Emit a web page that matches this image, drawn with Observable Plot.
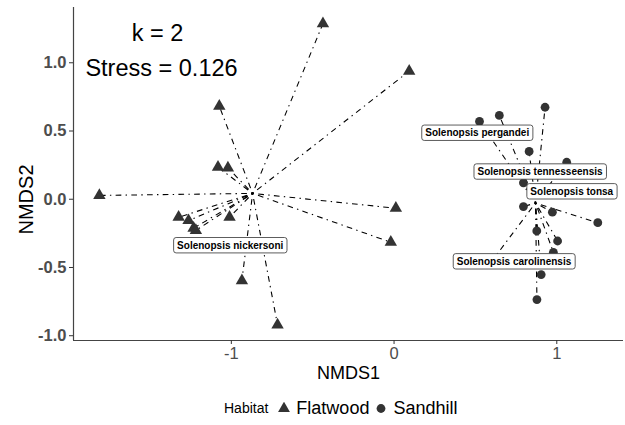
<!DOCTYPE html>
<html>
<head>
<meta charset="utf-8">
<script src="https://cdn.jsdelivr.net/npm/d3@7"></script>
<script src="https://cdn.jsdelivr.net/npm/@observablehq/plot@0.6"></script>
<style>
  body { margin: 0; background: #fff; font-family: "Liberation Sans", Arial, sans-serif; }
  #chart { position: relative; width: 625px; height: 425px; overflow: hidden; }
  g[aria-label="y-axis tick label"], g[aria-label="x-axis tick label"] { fill: #4d4d4d; }
  g[aria-label="y-axis tick"], g[aria-label="x-axis tick"] { stroke: #333; }
</style>
</head>
<body>
<div id="chart"></div>
<script>
// ---- data ----
const habitats = ["Flatwood", "Sandhill"];
const flatwoodX = [-0.437, 0.093, -1.074, -1.082, -1.021, -1.811, -1.324, -1.263, -1.232, -1.218, -1.011, 0.011, -0.020, -0.935, -0.716];
const flatwoodY = [1.286, 0.939, 0.682, 0.235, 0.230, 0.028, -0.132, -0.156, -0.212, -0.228, -0.132, -0.066, -0.315, -0.596, -0.921];
const sandhillX = [0.928, 0.647, 0.525, 0.830, 1.061, 0.795, 0.795, 0.973, 1.252, 0.877, 1.005, 0.979, 0.904, 0.878, 0.590];
const sandhillY = [0.674, 0.614, 0.570, 0.350, 0.271, 0.120, -0.054, -0.095, -0.172, -0.232, -0.306, -0.389, -0.552, -0.735, -0.471];
const speciesNames = ["Solenopsis nickersoni", "Solenopsis pergandei", "Solenopsis tennesseensis", "Solenopsis tonsa", "Solenopsis carolinensis"];
const speciesX = [-1.007, 0.511, 0.897, 1.092, 0.737];
const speciesY = [-0.339, 0.485, 0.201, 0.056, -0.457];
const xTicks = [-1, 0, 1];
const yTicks = [-1, -0.5, 0, 0.5, 1];
const xLimits = [-1.97, 1.41];
const yLimits = [-1.035, 1.405];
const annotations = ["k = 2", "Stress = 0.126"];

// ---- derived tables ----
const flat = flatwoodX.map((x, i) => ({habitat: habitats[0], x, y: flatwoodY[i]}));
const sand = sandhillX.map((x, i) => ({habitat: habitats[1], x, y: sandhillY[i]}));
const pts = flat.concat(sand);
const cent = d3.rollup(pts, v => ({x: d3.mean(v, d => d.x), y: d3.mean(v, d => d.y)}), d => d.habitat);
const spokes = pts.map(d => ({x1: cent.get(d.habitat).x, y1: cent.get(d.habitat).y, x2: d.x, y2: d.y}));
const species = speciesNames.map((name, i) => ({name, x: speciesX[i], y: speciesY[i]}));

const W = 625, H = 390;
const font = '"Liberation Sans", Arial, sans-serif';

const chart = Plot.plot({
  width: W, height: H,
  marginLeft: 73, marginRight: 2, marginTop: 7, marginBottom: H - 340,
  style: {fontFamily: font, background: "white", overflow: "visible", color: "#000"},
  x: {domain: xLimits, ticks: xTicks, label: null},
  y: {domain: yLimits, ticks: yTicks, label: null},
  marks: [
    Plot.link(spokes, {x1: "x1", y1: "y1", x2: "x2", y2: "y2", stroke: "#000", strokeWidth: 1.1, strokeDasharray: "1.4,4.3,5.7,4.3"}),
    Plot.dot(flat, {x: "x", y: "y", symbol: "triangle", r: 4.6, fill: "#333"}),
    Plot.dot(sand, {x: "x", y: "y", symbol: "circle", r: 4.4, fill: "#333"}),
    Plot.text(species, {x: "x", y: "y", text: "name", fontWeight: "bold", fontSize: 10, fill: "#000"}),
    Plot.ruleX([xLimits[0]], {stroke: "#444", strokeWidth: 1.2}),
    Plot.ruleY([yLimits[0]], {stroke: "#444", strokeWidth: 1.2}),
    Plot.axisX({ticks: xTicks, tickSize: 4, tickPadding: 3, tickFormat: d => String(d), fontSize: 16.5, label: null}),
    Plot.axisY({ticks: yTicks, tickSize: 4, tickPadding: 3, tickFormat: d => d.toFixed(1), fontSize: 16.5, fontWeight: "bold", label: null}),
    Plot.text([annotations[0]], {text: d => d, frameAnchor: "top-left", dx: 84, dy: 26, fontSize: 23.5, textAnchor: "middle", lineAnchor: "middle", fill: "#000"}),
    Plot.text([annotations[1]], {text: d => d, frameAnchor: "top-left", dx: 88, dy: 61, fontSize: 23.5, textAnchor: "middle", lineAnchor: "middle", fill: "#000"}),
    Plot.text(["NMDS1"], {text: d => d, frameAnchor: "bottom", dy: 33, fontSize: 18, textAnchor: "middle", lineAnchor: "middle", fill: "#000"}),
    Plot.text(["NMDS2"], {text: d => d, frameAnchor: "left", rotate: -90, dx: -47, dy: 25.5, fontSize: 20, textAnchor: "middle", lineAnchor: "middle", fill: "#000"})
  ]
});

const host = document.getElementById("chart");
host.appendChild(chart);

// rounded label boxes behind species names (like geom_label)
const nameSet = new Set(speciesNames);
Array.from(chart.querySelectorAll("text")).filter(t => nameSet.has(t.textContent)).forEach(t => {
  const bb = t.getBBox();
  const r = document.createElementNS("http://www.w3.org/2000/svg", "rect");
  r.setAttribute("x", bb.x - 3.5);
  r.setAttribute("y", bb.y - 2.2);
  r.setAttribute("width", bb.width + 7);
  r.setAttribute("height", bb.height + 4.4);
  r.setAttribute("rx", 2.5);
  r.setAttribute("fill", "#fff");
  r.setAttribute("stroke", "#333");
  r.setAttribute("stroke-width", 0.8);
  const tr = t.getAttribute("transform");
  if (tr) r.setAttribute("transform", tr);
  t.parentNode.insertBefore(r, t);
});

// legend below the plot
const legend = document.createElement("div");
legend.style.cssText = `position:absolute;left:224px;top:390px;height:36px;display:flex;align-items:center;font-family:${font};color:#000;white-space:nowrap;`;
const title = document.createElement("span");
title.textContent = "Habitat";
title.style.cssText = "font-size:14px;margin-right:10px;";
legend.appendChild(title);
const symbols = [d3.symbolTriangle, d3.symbolCircle];
habitats.forEach((h, i) => {
  const s = d3.create("svg").attr("width", 12).attr("height", 12).style("margin-right", "6px");
  s.append("path").attr("transform", "translate(6,6.5)")
    .attr("d", d3.symbol(symbols[i], Math.PI * 4.4 * 4.4)()).attr("fill", "#333");
  legend.appendChild(s.node());
  const lab = document.createElement("span");
  lab.textContent = h;
  lab.style.cssText = "font-size:18px;margin-right:" + (i === 0 ? 6 : 0) + "px;";
  legend.appendChild(lab);
});
host.appendChild(legend);
</script>
</body>
</html>
